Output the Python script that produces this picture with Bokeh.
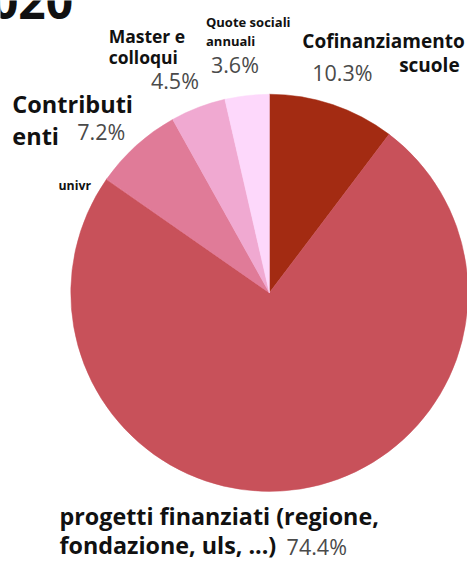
import numpy as np
from bokeh.plotting import figure
from bokeh.models import Range1d, ColumnDataSource
from bokeh.core.properties import value
from bokeh.embed import file_html
from bokeh.resources import INLINE

# ---- data (clockwise from 12 o'clock) ----
categories = ["Cofinanziamento scuole", "progetti finanziati (regione, fondazione, uls, ...)",
              "univr", "Contributi enti", "Master e colloqui", "Quote sociali annuali"]
values = [10.3, 74.4, 0.04, 7.2, 4.5, 3.6]
pct_labels = ["10.3%", "74.4%", "", "7.2%", "4.5%", "3.6%"]
colors = ["#A32B12", "#C8515A", "#D46070", "#E07B98", "#F0A9D1", "#FDD8FB"]
title_text = "2020"

# ---- canvas: data units = reference pixels ----
W, H = 467, 562
p = figure(width=W, height=H, output_backend="svg", toolbar_location=None,
           x_range=Range1d(0, 475), y_range=Range1d(0, 570), min_border=0)
p.axis.visible = False
p.grid.visible = False
p.outline_line_color = None
p.background_fill_color = "white"
p.border_fill_color = "white"

SY = H / 570.0

def Y(ref_y, size=0.0):
    # baseline in reference pixels -> data y, compensating renderer offset
    return 570 - ref_y + 0.4 * size / SY

# ---- pie ----
vals = np.array(values, dtype=float)
frac = vals / vals.sum()
cum = np.concatenate([[0.0], np.cumsum(frac)])
start = np.pi / 2 - cum[:-1] * 2 * np.pi
end = np.pi / 2 - cum[1:] * 2 * np.pi
src = ColumnDataSource(dict(cat=categories, start=start, end=end, color=colors))
cx, cy, r = 273.5, 570 - 296.5, 202
p.wedge(x=cx, y=cy, radius=r, start_angle="start", end_angle="end", direction="clock",
        fill_color="color", line_color="color", line_width=0.5, source=src)

FONT = value("Open Sans")

# ---- category labels (bold) ----
bold_lines = [
    ("Master e", 110, 43, 17.5, "left"),
    ("colloqui", 110, 64, 17.5, "left"),
    ("Contributi", 12, 114, 23.5, "left"),
    ("enti", 12, 147, 23.5, "left"),
    ("univr", 59, 193, 12.3, "left"),
    ("Quote sociali", 209, 27, 13, "left"),
    ("annuali", 209, 46, 13, "left"),
    ("Cofinanziamento", 307, 49, 19, "left"),
    ("scuole", 467, 73, 19, "right"),
    ("progetti finanziati (regione,", 60, 532, 23.3, "left"),
    ("fondazione, uls, ...)", 60, 562, 23.3, "left"),
]
for t, x, y, s, al in bold_lines:
    p.text(x=[x], y=[Y(y, s)], text=[t], text_font=FONT, text_font_style="bold",
           text_font_size=f"{s}px", text_color="#111111", text_align=al,
           text_baseline="alphabetic")

# ---- percent labels ----
PCT_SIZE = 21.5
pct_pos = {"10.3%": (317, 82), "74.4%": (291, 563), "7.2%": (78, 142),
           "4.5%": (153, 90), "3.6%": (214, 74)}
for lab in pct_labels:
    if not lab:
        continue
    x, y = pct_pos[lab]
    p.text(x=[x], y=[Y(y, PCT_SIZE)], text=[lab], text_font=FONT, text_font_style="normal",
           text_font_size=f"{PCT_SIZE}px", text_color="#4a4a4a", text_align="left",
           text_baseline="alphabetic")

# ---- title (partly off-canvas) ----
p.text(x=[74], y=[Y(20, 48)], text=[title_text], text_font=FONT, text_font_style="bold",
       text_font_size="48px", text_color="#111111", text_align="right",
       text_baseline="alphabetic")

open("out.html", "w").write(file_html(p, INLINE))
